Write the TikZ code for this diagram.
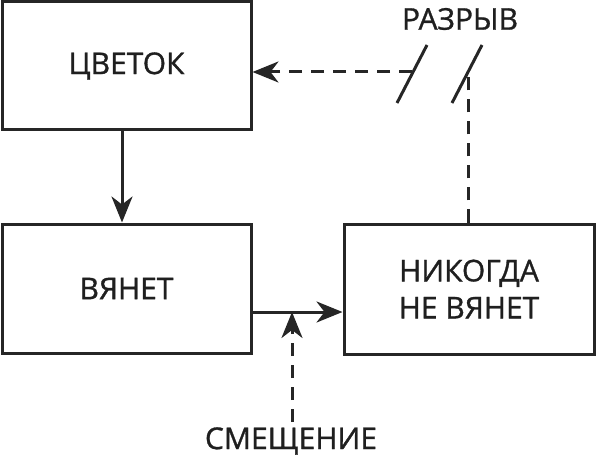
\documentclass[tikz,border=0pt]{standalone}
\usepackage{fontspec}
\setmainfont{Open Sans}[FakeBold=1]
\usetikzlibrary{arrows.meta}
\begin{document}
\begin{tikzpicture}[x=1pt,y=-1pt,
  line width=3pt,
  every node/.style={font=\fontsize{30}{37}\selectfont, text=black!88},
  box/.style={draw=black!85, rectangle, inner sep=0pt, align=center},
  lbl/.style={inner sep=0pt, align=center},
  arr/.style={draw=black!85, -{Stealth[length=26pt,width=21pt,inset=8pt]}},
  dsh/.style={draw=black!85, dash pattern=on 13pt off 9pt},
  slash/.style={draw=black!85}]
\useasboundingbox (0,0) rectangle (596,462);
\node[box, minimum width=249pt, minimum height=128pt] (b1) at (126.5,66) {ЦВЕТОК};
\node[box, minimum width=249pt, minimum height=129pt] (b2) at (126.5,288.5) {ВЯНЕТ};
\node[box, minimum width=250pt, minimum height=130pt] (b3) at (469,289) {НИКОГДА\\НЕ ВЯНЕТ};
\node[lbl] (brk) at (460,19) {РАЗРЫВ};
\node[lbl] (shift) at (291,441) {СМЕЩЕНИЕ};
\coordinate (j) at (292,312);
\coordinate (sTop) at (292,422);
\coordinate (up) at (468,75);
\coordinate (hs) at (412,72);
\coordinate (c1) at (122,0);
% connectors
\draw[arr] (b1.south -| c1) -- (b2.north -| c1);
\draw[arr] (b2.east |- j) -- (b3.west |- j);
\draw[arr, dsh] (sTop) -- (j);
\draw[dsh] (b3.north -| up) -- (up);
\draw[arr, dsh] (hs) -- (b1.east |- hs);
% break marks
\draw[slash] (397,103) -- (427,45);
\draw[slash] (452,103) -- (482,45);
\end{tikzpicture}
\end{document}
